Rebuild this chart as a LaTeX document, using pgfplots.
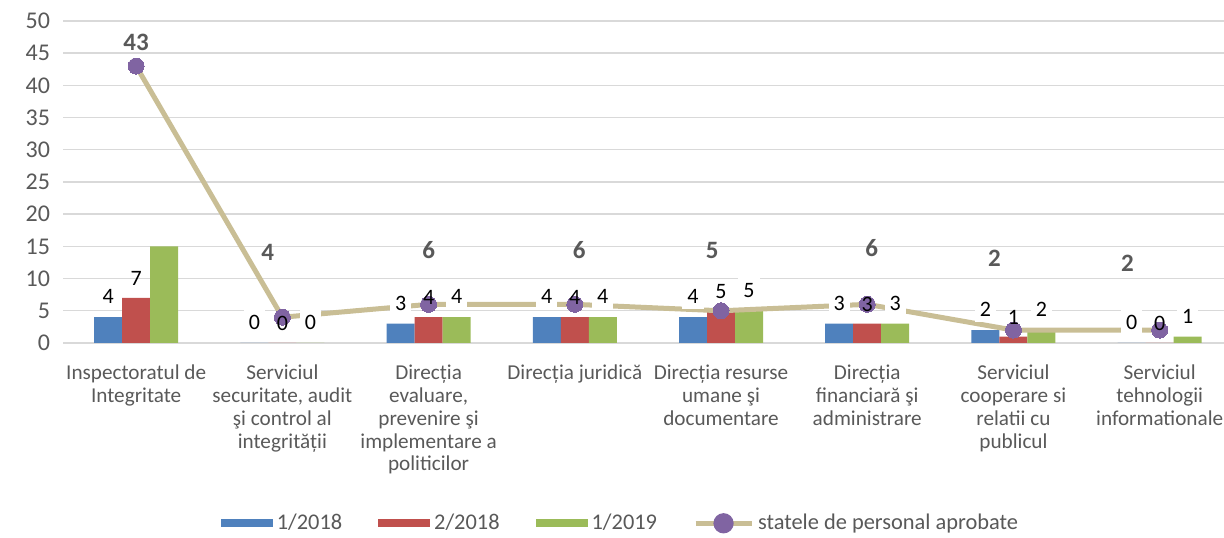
\documentclass[border=0pt]{standalone}
\usepackage{fontspec}
\setmainfont{Carlito}
\usepackage{pgfplots}
\pgfplotsset{compat=1.18}
\definecolor{cblue}{HTML}{4F81BD}
\definecolor{cred}{HTML}{C0504D}
\definecolor{cgreen}{HTML}{9BBB59}
\definecolor{ctan}{HTML}{C9BE95}
\definecolor{cpurple}{HTML}{8064A2}
\definecolor{ctxt}{HTML}{595959}
\definecolor{cgrid}{HTML}{D9D9D9}
\begin{document}
\begin{tikzpicture}
\begin{axis}[
  name=ax,
  scale only axis, width=580.5pt, height=161pt,
  xmin=-0.5, xmax=7.44, ymin=0, ymax=50,
  ytick={0,5,...,50},
  ymajorgrids, grid style={cgrid, line width=0.7pt},
  axis line style={draw=none},
  major tick length=0pt,
  xtick={0,...,7},
  xticklabels={
    {Inspectoratul de\\Integritate},
    {Serviciul\\securitate, audit\\şi control al\\integrității},
    {Direcția\\evaluare,\\prevenire şi\\implementare a\\politicilor},
    {Direcția juridică},
    {Direcția resurse\\umane şi\\documentare},
    {Direcția\\financiară şi\\administrare},
    {Serviciul\\cooperare si\\relatii cu\\publicul},
    {Serviciul\\tehnologii\\informationale}},
  /pgf/number format/assume math mode=true,
  yticklabel style={font=\fontsize{12}{14}\selectfont, text=ctxt, xshift=-3pt},
  xticklabel style={align=center, font=\fontsize{10.6}{11.4}\selectfont, text=ctxt, anchor=north, yshift=-7.5pt},
  legend style={draw=none, legend columns=-1, at={(0.481,-0.56)}, anchor=center,
    font=\fontsize{11.2}{13}\selectfont, text=ctxt,
    /tikz/every even column/.append style={column sep=16pt}},
  legend cell align=left,
  every node near coord/.append style={font=\fontsize{11}{13}\selectfont, text=black, yshift=4pt},
]
% bars
\addplot[ybar, bar width=14pt, bar shift=-14pt, fill=cblue, draw=none,
  legend image code/.code={\fill[cblue] (0pt,-2pt) rectangle (26pt,2pt);}]
  coordinates {(0,4) (1,0) (2,3) (3,4) (4,4) (5,3) (6,2) (7,0)};
\addlegendentry{1/2018}
\addplot[ybar, bar width=14pt, bar shift=0pt, fill=cred, draw=none,
  legend image code/.code={\fill[cred] (0pt,-2pt) rectangle (26pt,2pt);}]
  coordinates {(0,7) (1,0) (2,4) (3,4) (4,5) (5,3) (6,1) (7,0)};
\addlegendentry{2/2018}
\addplot[ybar, bar width=14pt, bar shift=14pt, fill=cgreen, draw=none,
  legend image code/.code={\fill[cgreen] (0pt,-2pt) rectangle (26pt,2pt);}]
  coordinates {(0,15) (1,0) (2,4) (3,4) (4,5) (5,3) (6,2) (7,1)};
\addlegendentry{1/2019}
% blue labels
\addplot[draw=none, forget plot, nodes near coords,
  every node near coord/.append style={xshift=-14pt, fill=white, inner sep=2.5pt}]
  coordinates {(0,4) (1,0) (2,3) (3,4) (4,4) (5,3) (6,2) (7,0)};
% green labels
\addplot[draw=none, forget plot, nodes near coords,
  every node near coord/.append style={xshift=14pt, fill=white, inner sep=2.5pt}]
  coordinates {(1,0) (2,4) (3,4) (4,5) (5,3) (6,2) (7,1)};
% line
\addplot[color=ctan, line width=2.5pt, mark=*, mark size=4pt,
  mark options={fill=cpurple, draw=cpurple, line width=0pt},
  legend image code/.code={\draw[ctan, line width=2.5pt] (0pt,0pt) -- (28pt,0pt);
    \fill[cpurple] (14pt,0pt) circle (3.8pt);}]
  coordinates {(0,43) (1,4) (2,6) (3,6) (4,5) (5,6) (6,2) (7,2)};
\addlegendentry{statele de personal aprobate}
% red labels
\addplot[draw=none, forget plot, nodes near coords, inner sep=2pt]
  coordinates {(0,7) (1,0) (2,4) (3,4) (4,5) (5,3) (6,1) (7,0)};
% line value labels
\addplot[draw=none, forget plot, nodes near coords, point meta=explicit symbolic,
  every node near coord/.append style={anchor=center, yshift=-4pt, text=ctxt, font=\fontsize{12.5}{14}\selectfont\bfseries}]
  coordinates {(0,46.7)[43] (0.90,14.1)[4] (2.0,14.4)[6] (3.03,14.4)[6] (3.94,14.4)[5] (5.03,14.75)[6] (5.87,13.2)[2] (6.78,12.4)[2]};
\coordinate (bbsw) at (rel axis cs:-0.0543,-0.6056);
\coordinate (bbne) at (rel axis cs:1,1.0652);
\end{axis}
\pgfresetboundingbox
\useasboundingbox (bbsw) rectangle (bbne);
\end{tikzpicture}
\end{document}
